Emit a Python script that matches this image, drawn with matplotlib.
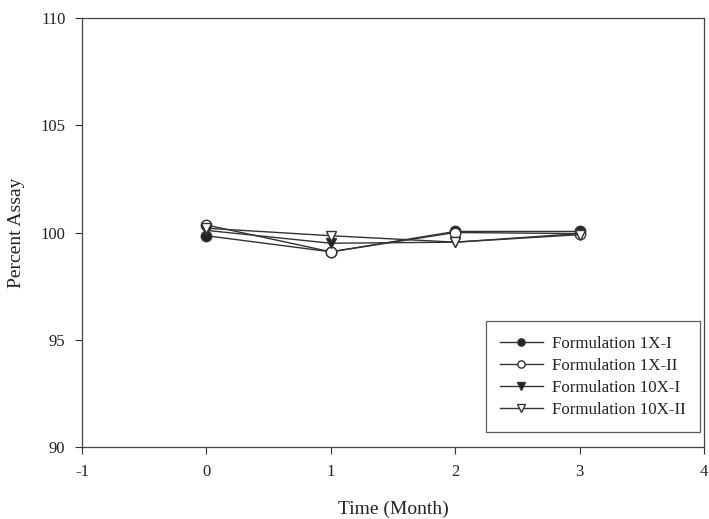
import numpy as np
import matplotlib.pyplot as plt

plt.rcParams['font.family'] = ['Liberation Serif', 'DejaVu Serif']
plt.rcParams['axes.unicode_minus'] = False

months = [0, 1, 2, 3]
f1x_i = [99.85, 99.1, 100.05, 100.05]
f1x_ii = [100.35, 99.1, 100.0, 99.95]
f10x_i = [100.1, 99.5, 99.55, 99.95]
f10x_ii = [100.2, 99.85, 99.55, 99.9]

series = [
    ('Formulation 1X-I', f1x_i, 'o', '#222222'),
    ('Formulation 1X-II', f1x_ii, 'o', 'white'),
    ('Formulation 10X-I', f10x_i, 'v', '#222222'),
    ('Formulation 10X-II', f10x_ii, 'v', 'white'),
]

fig = plt.figure(figsize=(7.09, 5.19), dpi=100)
ax = fig.add_axes([0.1157, 0.1387, 0.8773, 0.8266])

for label, vals, mk, fc in series:
    ax.plot(months, vals, color='#333333', linewidth=1.0, marker=mk,
            markersize=7.5, markerfacecolor=fc, markeredgecolor='#333333',
            markeredgewidth=1.0, label=label)

ax.set_xlim(-1, 4)
ax.set_ylim(90, 110)
ax.set_xticks(range(-1, 5))
ax.set_yticks(range(90, 111, 5))
ax.tick_params(direction='out', length=5, width=0.8, colors='#333333',
               labelsize=12, labelcolor='#222222')
ax.tick_params(axis='x', pad=7)
ax.tick_params(axis='y', pad=7)
for s in ax.spines.values():
    s.set_color('#444444')
    s.set_linewidth(0.9)

ax.set_xlabel('Time (Month)', fontsize=14, color='#222222', labelpad=15)
ax.set_ylabel('Percent Assay', fontsize=14, color='#222222', labelpad=11)

leg = ax.legend(loc='lower right', fontsize=12.2, frameon=True, fancybox=False,
                edgecolor='#333333', handlelength=2.5, handletextpad=0.55,
                borderpad=0.85, labelspacing=0.35, markerscale=0.7,
                borderaxespad=0, bbox_to_anchor=(0.9936, 0.035))
leg.get_frame().set_linewidth(0.9)
for t in leg.get_texts():
    t.set_color('#222222')

fig.savefig('out.png', dpi=100)
